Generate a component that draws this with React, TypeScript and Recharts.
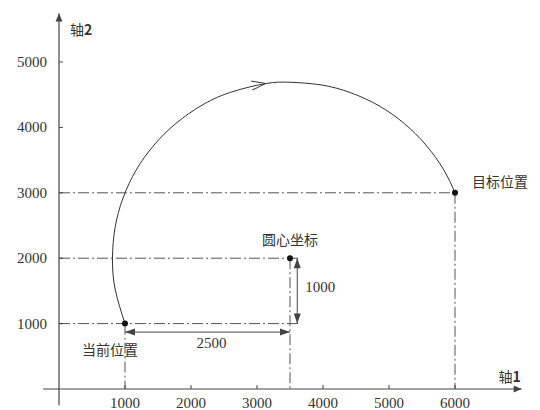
import {
    ComposedChart,
    Line,
    XAxis,
    YAxis,
    ReferenceLine,
    ReferenceDot
} from "recharts";

const xTicks = [1000, 2000, 3000, 4000, 5000, 6000];
const yTicks = [1000, 2000, 3000, 4000, 5000];

// arc, from current position round to the target
const arcX = [1000, 850, 810, 850, 970, 1170, 1440, 1770, 2150, 2580, 3130, 3500, 3970, 4420, 4850, 5230, 5560, 5830, 6000];
const arcY = [1000, 1530, 2000, 2470, 2920, 3350, 3730, 4060, 4330, 4530, 4670, 4690, 4650, 4530, 4330, 4060, 3730, 3350, 3000];
const arcArrowIndex = 10;

const pointNames = ["当前位置", "圆心坐标", "目标位置"];
const pointX = [1000, 3500, 6000];
const pointY = [1000, 2000, 3000];

// dash-dot guides: start and end
const guideStart = [[0, 3000], [0, 2000], [0, 1000], [1000, 1000], [3500, 2000], [6000, 3000]];
const guideEnd = [[6000, 3000], [3650, 2000], [3650, 1000], [1000, 0], [3500, 0], [6000, 0]];

// dimension arrows
const dimLabels = ["2500", "1000"];
const dimStart = [[1000, 870], [3610, 2000]];
const dimEnd = [[3500, 870], [3610, 1000]];

const xAxisRange = [-240, 7010];
const yAxisRange = [-250, 5740];

const arc = arcX.map((x, i) => ({x, y: arcY[i]}));

const SERIF = "Liberation Serif, DejaVu Serif, serif";
const CJK = "Noto Sans CJK SC, Noto Sans, sans-serif";
const INK = "#333";

// label offsets for the three points (relative to dot centre)
const pointLabelStyle: Record<string, {dx: number; dy: number; anchor: string}> = {
    "当前位置": {dx: -15, dy: 31, anchor: "middle"},
    "圆心坐标": {dx: 0, dy: -13, anchor: "middle"},
    "目标位置": {dx: 17, dy: -6, anchor: "start"},
};

function head(x: number, y: number, ang: number, len: number, half: number) {
    const bx = x - len * Math.cos(ang);
    const by = y - len * Math.sin(ang);
    const px = -Math.sin(ang) * half;
    const py = Math.cos(ang) * half;
    return `${x},${y} ${bx + px},${by + py} ${bx - px},${by - py}`;
}

const axisShape = (p: any) => {
    const {x1, y1, x2, y2} = p;
    const a = Math.atan2(y2 - y1, x2 - x1);
    return (
        <g>
            <line x1={x1} y1={y1} x2={x2} y2={y2} stroke="#444" strokeWidth={1.2}/>
            <polygon points={head(x2, y2, a, 8, 3.5)} fill="#444"/>
        </g>
    );
};

const dimShape = (p: any) => {
    const {x1, y1, x2, y2} = p;
    const a = Math.atan2(y2 - y1, x2 - x1);
    return (
        <g>
            <line x1={x1} y1={y1} x2={x2} y2={y2} stroke="#444" strokeWidth={1}/>
            <polygon points={head(x2, y2, a, 10, 3.5)} fill="#444"/>
            <polygon points={head(x1, y1, a + Math.PI, 10, 3.5)} fill="#444"/>
        </g>
    );
};

const XTick = (props: any) => {
    const {x, y, payload} = props;
    return (
        <g>
            <line x1={x} y1={y} x2={x} y2={y - 4} stroke="#444"/>
            <text x={x} y={y + 19} textAnchor="middle" style={{fontFamily: SERIF}} fontSize={15} fill={INK}>
                {payload.value}
            </text>
        </g>
    );
};

const YTick = (props: any) => {
    const {x, y, payload} = props;
    return (
        <g>
            <line x1={x} y1={y} x2={x + 4} y2={y} stroke="#444"/>
            <text x={x - 12} y={y + 5} textAnchor="end" style={{fontFamily: SERIF}} fontSize={15} fill={INK}>
                {payload.value}
            </text>
        </g>
    );
};

const arcArrow = (p: any) => {
    if (p.index !== arcArrowIndex) return <g key={`d${p.index}`}/>;
    return (
        <path
            key={`d${p.index}`}
            d="M -14 -4.5 L 0 0 L -14 4.5"
            transform={`translate(${p.cx},${p.cy}) rotate(-8)`}
            fill="none"
            stroke={INK}
            strokeWidth={1}
        />
    );
};

export default function App() {
    return (
        <div>
            <style>{"body{margin:0}"}</style>
            <ComposedChart
                width={540}
                height={410}
                margin={{top: 62, right: 85, bottom: 0, left: 0}}
            >
                <XAxis
                    type="number"
                    dataKey="x"
                    domain={[0, 6000]}
                    ticks={xTicks}
                    interval={0}
                    axisLine={false}
                    tickLine={false}
                    tickSize={0}
                    tickMargin={0}
                    height={21}
                    tick={<XTick/>}
                />
                <YAxis
                    type="number"
                    dataKey="y"
                    domain={[0, 5000]}
                    ticks={yTicks}
                    interval={0}
                    axisLine={false}
                    tickLine={false}
                    tickSize={0}
                    tickMargin={0}
                    width={59}
                    tick={<YTick/>}
                />

                {/* axes through the origin */}
                <ReferenceLine
                    segment={[{x: xAxisRange[0], y: 0}, {x: xAxisRange[1], y: 0}]}
                    ifOverflow="visible"
                    shape={axisShape}
                    label={(p: any) => (
                        <text x={p.viewBox.x + p.viewBox.width - 12} y={p.viewBox.y - 7}
                              textAnchor="middle" style={{fontFamily: CJK}} fontSize={14} fill={INK}>
                            轴<tspan fontWeight={700}>1</tspan>
                        </text>
                    )}
                />
                <ReferenceLine
                    segment={[{x: 0, y: yAxisRange[0]}, {x: 0, y: yAxisRange[1]}]}
                    ifOverflow="visible"
                    shape={axisShape}
                    label={(p: any) => (
                        <text x={p.viewBox.x + 11} y={p.viewBox.y + 21}
                              textAnchor="start" style={{fontFamily: CJK}} fontSize={14} fill={INK}>
                            轴<tspan fontWeight={700}>2</tspan>
                        </text>
                    )}
                />

                {guideStart.map((s, i) => (
                    <ReferenceLine
                        key={`g${i}`}
                        segment={[{x: s[0], y: s[1]}, {x: guideEnd[i][0], y: guideEnd[i][1]}]}
                        ifOverflow="visible"
                        stroke="#555"
                        strokeWidth={1}
                        strokeDasharray="11 3 2 3"
                    />
                ))}

                {dimStart.map((s, i) => (
                    <ReferenceLine
                        key={`m${i}`}
                        segment={[{x: s[0], y: s[1]}, {x: dimEnd[i][0], y: dimEnd[i][1]}]}
                        ifOverflow="visible"
                        shape={dimShape}
                        label={(p: any) => {
                            const vb = p.viewBox;
                            const horizontal = vb.width > vb.height;
                            return horizontal ? (
                                <text x={vb.x + vb.width / 2 + 4} y={vb.y + 16} textAnchor="middle"
                                      style={{fontFamily: SERIF}} fontSize={15} fill={INK}>{dimLabels[i]}</text>
                            ) : (
                                <text x={vb.x + 8} y={vb.y + vb.height / 2 + 1} textAnchor="start"
                                      style={{fontFamily: SERIF}} fontSize={15} fill={INK}>{dimLabels[i]}</text>
                            );
                        }}
                    />
                ))}

                <Line
                    data={arc}
                    dataKey="y"
                    type="natural"
                    stroke={INK}
                    strokeWidth={1}
                    dot={arcArrow}
                    activeDot={false}
                    isAnimationActive={false}
                />

                {pointNames.map((name, i) => (
                    <ReferenceDot
                        key={name}
                        x={pointX[i]}
                        y={pointY[i]}
                        r={3}
                        fill="#111"
                        stroke="none"
                        ifOverflow="visible"
                        label={(p: any) => {
                            const vb = p.viewBox;
                            const st = pointLabelStyle[name];
                            return (
                                <text x={vb.x + vb.width / 2 + st.dx} y={vb.y + vb.height / 2 + st.dy}
                                      textAnchor={st.anchor} style={{fontFamily: CJK}} fontSize={14} fill={INK}>
                                    {name}
                                </text>
                            );
                        }}
                    />
                ))}
            </ComposedChart>
        </div>
    );
}
